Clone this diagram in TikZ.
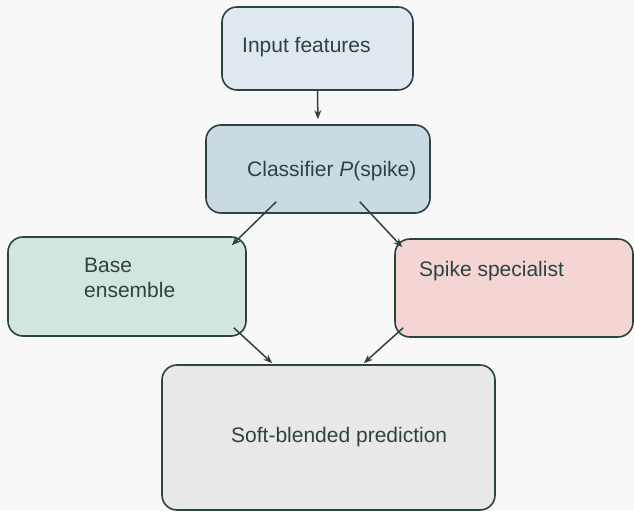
\documentclass[tikz,border=0pt]{standalone}
\usepackage{fontspec}
\setmainfont{Liberation Sans}
\usetikzlibrary{arrows.meta}

\definecolor{bgcol}{HTML}{F8F8F8}
\definecolor{edgecol}{HTML}{2E4242}
\definecolor{inpcol}{HTML}{DEE8EE}
\definecolor{clscol}{HTML}{C9DAE3}
\definecolor{basecol}{HTML}{D3E6DE}
\definecolor{speccol}{HTML}{F3D6D4}
\definecolor{outcol}{HTML}{E8E8E8}

\tikzset{
	box/.style={draw=edgecol, line width=1.6pt, rounded corners=15pt, inner sep=0pt},
	lbl/.style={anchor=west, inner sep=0pt, text=edgecol, font=\fontsize{21}{25}\selectfont},
	wire/.style={draw=edgecol, line width=1.5pt, -{Stealth[length=9pt, width=7pt]}}
}

\begin{document}
\begin{tikzpicture}[x=1pt, y=1pt]
	\fill[bgcol] (0, 0) rectangle (634, 511);
	\useasboundingbox (0, 0) rectangle (634, 511);
	% Boxes and their texts:
	\node[box, fill=inpcol, minimum width=191pt, minimum height=83pt](inp) at (317.5, 462.5){};
	\node[box, fill=clscol, minimum width=224pt, minimum height=88pt](cls) at (318, 342){};
	\node[box, fill=basecol, minimum width=238pt, minimum height=99pt](base) at (127, 224.5){};
	\node[box, fill=speccol, minimum width=238pt, minimum height=98pt](spec) at (514, 223){};
	\node[box, fill=outcol, minimum width=333pt, minimum height=145pt](out) at (328.5, 73.5){};
	\node[lbl](inptext) at (242, 464){Input features};
	\node[lbl](clstext) at (247, 340){Classifier \textit{P}(spike)};
	\node[lbl, align=left](basetext) at (84, 233.5){Base\\ensemble};
	\node[lbl](spectext) at (419, 240){Spike specialist};
	\node[lbl](outtext) at (231, 74){Soft-blended prediction};
	% Connector ends:
	\coordinate (clsL) at ([shift={(71, 12)}]cls.south west);
	\coordinate (clsR) at ([shift={(-71, 12)}]cls.south east);
	\coordinate (baseIn) at ([shift={(-15, -9)}]base.north east);
	\coordinate (specIn) at ([shift={(8, -9)}]spec.north west);
	\coordinate (baseOut) at ([shift={(-13, 9)}]base.south east);
	\coordinate (specOut) at ([shift={(9, 10)}]spec.south west);
	\coordinate (outL) at ([shift={(111, 1)}]out.north west);
	\coordinate (outR) at ([shift={(-132, 1)}]out.north east);
	% Wires:
	\draw[wire, shorten >=5pt] (inp.south) -- (cls.north);
	\draw[wire] (clsL) -- (baseIn);
	\draw[wire] (clsR) -- (specIn);
	\draw[wire] (baseOut) -- (outL);
	\draw[wire] (specOut) -- (outR);
\end{tikzpicture}
\end{document}
